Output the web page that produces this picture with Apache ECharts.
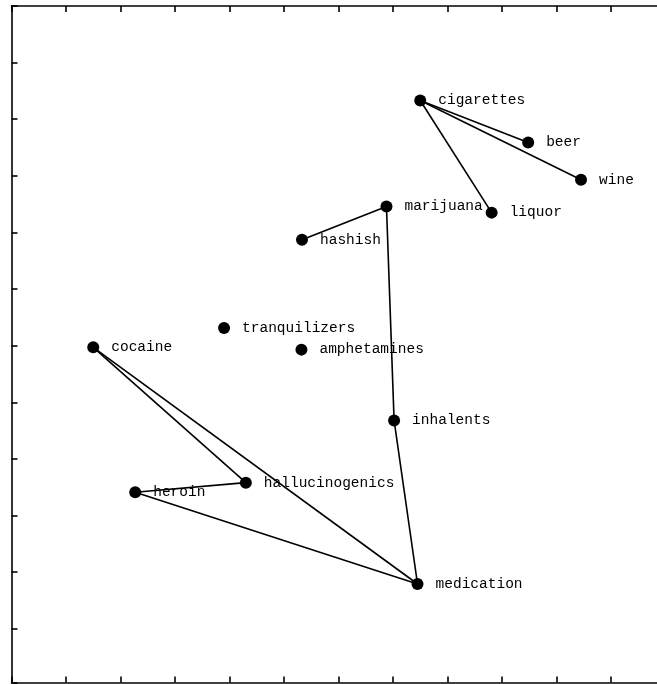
<!DOCTYPE html>
<html>
<head>
<meta charset="utf-8">
<script src="https://cdn.jsdelivr.net/npm/echarts@6/dist/echarts.min.js"></script>
<style>
  html, body { margin: 0; padding: 0; background: #fff; }
  #chart { width: 657px; height: 684px; }
</style>
</head>
<body>
<div id="chart"></div>
<script>
// Substance names and their 2-D configuration coordinates
// (y is measured downward from the top of the frame).
const drugs = ['cigarettes', 'beer', 'wine', 'liquor', 'marijuana', 'hashish',
  'tranquilizers', 'amphetamines', 'cocaine', 'inhalents', 'hallucinogenics',
  'heroin', 'medication'];
const xVals = [7.50, 9.48, 10.45, 8.81, 6.88, 5.33, 3.90, 5.32, 1.50, 7.02, 4.30, 2.27, 7.45];
const yVals = [1.67, 2.41, 3.07, 3.65, 3.54, 4.13, 5.69, 6.07, 6.03, 7.32, 8.42, 8.59, 10.21];

// Pairs joined by a straight segment
const links = [
  ['cigarettes', 'beer'],
  ['cigarettes', 'wine'],
  ['cigarettes', 'liquor'],
  ['marijuana', 'hashish'],
  ['marijuana', 'inhalents'],
  ['inhalents', 'medication'],
  ['cocaine', 'hallucinogenics'],
  ['cocaine', 'medication'],
  ['heroin', 'hallucinogenics'],
  ['heroin', 'medication']
];

// Axis extents (frame edges); ticks every unit, no tick labels
const xMin = 0, xMax = 12;
const yMin = 0, yMax = 11.95;

const ink = '#000';
const pointOf = name => {
  const i = drugs.indexOf(name);
  return [xVals[i], yVals[i]];
};

function frameAxis(extra) {
  return Object.assign({
    type: 'value',
    interval: 1,
    axisLine: { show: true, onZero: false, lineStyle: { color: ink, width: 1.6 } },
    axisTick: { show: true, inside: true, length: 6, lineStyle: { color: ink, width: 1.6 } },
    axisLabel: { show: false },
    splitLine: { show: false }
  }, extra);
}

const chart = echarts.init(document.getElementById('chart'), null, { renderer: 'canvas' });
chart.setOption({
  backgroundColor: '#fff',
  animation: false,
  // the frame runs past the right edge of the page
  grid: { left: 11.5, top: 6, right: -8.5, bottom: 1.5, outerBoundsMode: 'none', containLabel: false },
  xAxis: [
    frameAxis({ position: 'bottom', min: xMin, max: xMax }),
    frameAxis({ position: 'top', min: xMin, max: xMax })
  ],
  yAxis: [
    frameAxis({ position: 'left', min: yMin, max: yMax, inverse: true }),
    frameAxis({ position: 'right', min: yMin, max: yMax, inverse: true })
  ],
  series: [
    {
      type: 'lines',
      coordinateSystem: 'cartesian2d',
      xAxisIndex: 0,
      yAxisIndex: 0,
      silent: true,
      z: 2,
      lineStyle: { color: ink, width: 1.6, opacity: 1, curveness: 0 },
      data: links.map(([a, b]) => ({ coords: [pointOf(a), pointOf(b)] }))
    },
    {
      type: 'scatter',
      xAxisIndex: 0,
      yAxisIndex: 0,
      z: 3,
      symbol: 'circle',
      symbolSize: 12,
      itemStyle: { color: ink, opacity: 1 },
      label: {
        show: true,
        position: 'right',
        distance: 12,
        formatter: p => p.name,
        color: ink,
        fontFamily: '"Liberation Mono", "Courier New", monospace',
        fontSize: 14.5
      },
      emphasis: { disabled: true },
      data: drugs.map((name, i) => ({ name: name, value: [xVals[i], yVals[i]] }))
    }
  ]
});
</script>
</body>
</html>
